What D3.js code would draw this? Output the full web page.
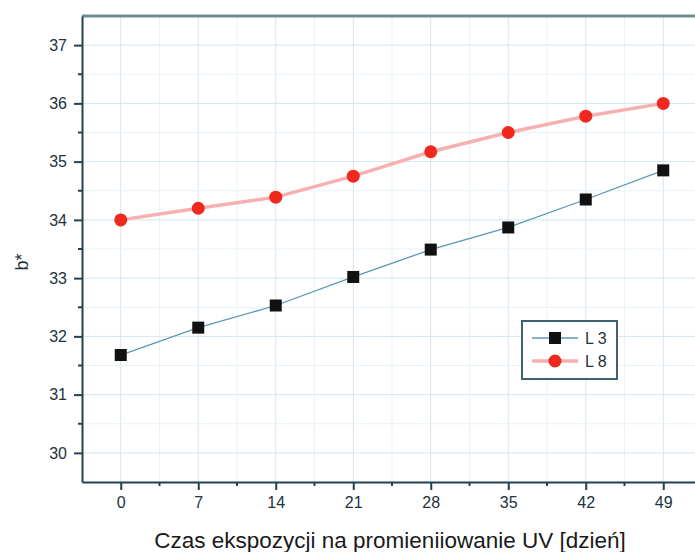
<!DOCTYPE html>
<html>
<head>
<meta charset="utf-8">
<script src="https://cdn.jsdelivr.net/npm/d3@7"></script>
<style>
  body { margin: 0; background: #fff; }
  svg { display: block; font-family: "Liberation Sans", Arial, sans-serif; }
</style>
</head>
<body>
<svg width="695" height="552"></svg>
<script>
//-- data --//
const days = [0, 7, 14, 21, 28, 35, 42, 49];
const seriesNames = ["L 3", "L 8"];
const valuesL3 = [31.68, 32.15, 32.53, 33.02, 33.49, 33.87, 34.35, 34.85];
const valuesL8 = [34.0, 34.2, 34.39, 34.75, 35.17, 35.5, 35.78, 36.0];
const yTicks = [30, 31, 32, 33, 34, 35, 36, 37];
const xLabel = "Czas ekspozycji na promieniiowanie UV [dzień]";
const yLabel = "b*";

const series = [
  {key: seriesNames[0], values: days.map((d, i) => ({day: d, value: valuesL3[i]}))},
  {key: seriesNames[1], values: days.map((d, i) => ({day: d, value: valuesL8[i]}))}
];

const margin = {top: 16, right: -7, bottom: 70, left: 82};
const width = 695;
const height = 552;
const axisColor = "#24414f";
const textColor = "#22323e";

const x = d3.scaleLinear()
    .domain([-3.5, 52.5])
    .range([margin.left, width - margin.right]);

const y = d3.scaleLinear()
    .domain([29.5, 37.5])
    .range([height - margin.bottom, margin.top]);

const svg = d3.select("svg");

//-- grid --//
const xMinor = d3.range(0, 52.5, 3.5);
const yMinor = d3.range(30, 37.5, 0.5);

svg.append("g")
    .selectAll("line")
    .data(xMinor)
    .join("line")
    .attr("x1", d => x(d)).attr("x2", d => x(d))
    .attr("y1", y.range()[0]).attr("y2", y.range()[1])
    .attr("stroke", d => d % 7 === 0 ? "#d3e5ef" : "#e8f1f6")
    .attr("stroke-width", 1);

svg.append("g")
    .selectAll("line")
    .data(yMinor)
    .join("line")
    .attr("x1", x.range()[0]).attr("x2", x.range()[1])
    .attr("y1", d => y(d)).attr("y2", d => y(d))
    .attr("stroke", d => d % 1 === 0 ? "#d3e5ef" : "#e8f1f6")
    .attr("stroke-width", 1);

//-- axes --//
const xAxis = g => g
    .attr("transform", `translate(0,${y.range()[0]})`)
    .call(d3.axisBottom(x).tickValues(days).tickSize(8).tickPadding(7).tickSizeOuter(0))
    .call(g => g.select(".domain").attr("stroke", axisColor).attr("stroke-width", 2))
    .call(g => g.selectAll(".tick line").attr("stroke", axisColor).attr("stroke-width", 2))
    .call(g => g.selectAll(".tick text").attr("fill", textColor).style("font-size", "16px"));

const yAxis = g => g
    .attr("transform", `translate(${x.range()[0]},0)`)
    .call(d3.axisLeft(y).tickValues(yTicks).tickSize(8).tickPadding(7).tickSizeOuter(0))
    .call(g => g.select(".domain").attr("stroke", axisColor).attr("stroke-width", 2))
    .call(g => g.selectAll(".tick line").attr("stroke", axisColor).attr("stroke-width", 2))
    .call(g => g.selectAll(".tick text").attr("fill", textColor).style("font-size", "16px"));

// minor ticks
svg.append("g")
    .selectAll("line")
    .data(xMinor.filter(d => d % 7 !== 0))
    .join("line")
    .attr("x1", d => x(d)).attr("x2", d => x(d))
    .attr("y1", y.range()[0]).attr("y2", y.range()[0] + 4)
    .attr("stroke", axisColor).attr("stroke-width", 2);

svg.append("g")
    .selectAll("line")
    .data(yMinor.filter(d => d % 1 !== 0))
    .join("line")
    .attr("x1", x.range()[0] - 4).attr("x2", x.range()[0])
    .attr("y1", d => y(d)).attr("y2", d => y(d))
    .attr("stroke", axisColor).attr("stroke-width", 2);

// top frame
svg.append("line")
    .attr("x1", x.range()[0]).attr("x2", x.range()[1])
    .attr("y1", y.range()[1]).attr("y2", y.range()[1])
    .attr("stroke", "#6f8d99").attr("stroke-width", 3);

svg.append("g").call(xAxis);
svg.append("g").call(yAxis);

//-- lines + markers --//
const line = d3.line()
    .x(d => x(d.day))
    .y(d => y(d.value));

const styles = {
  "L 3": {stroke: "#5b97b3", width: 1.3},
  "L 8": {stroke: "#f7b0b0", width: 3.5}
};

const g = svg.append("g")
    .selectAll("g")
    .data(series)
    .join("g");

g.append("path")
    .attr("fill", "none")
    .attr("stroke", d => styles[d.key].stroke)
    .attr("stroke-width", d => styles[d.key].width)
    .attr("d", d => line(d.values));

function marker(sel, key) {
  if (key === "L 3") {
    sel.append("rect")
        .attr("x", -6).attr("y", -6)
        .attr("width", 12).attr("height", 12)
        .attr("fill", "#111");
  } else {
    sel.append("circle")
        .attr("r", 6.5)
        .attr("fill", "#f0281e");
  }
}

g.each(function(d) {
  d3.select(this).selectAll("g.pt")
      .data(d.values)
      .join("g")
      .attr("class", "pt")
      .attr("transform", p => `translate(${x(p.day)},${y(p.value)})`)
      .each(function() { marker(d3.select(this), d.key); });
});

//-- legend --//
const legend = svg.append("g").attr("transform", "translate(522,321)");
legend.append("rect")
    .attr("width", 95).attr("height", 58)
    .attr("fill", "#fff")
    .attr("stroke", "#3f6272").attr("stroke-width", 2);

series.forEach((s, i) => {
  const row = legend.append("g").attr("transform", `translate(0,${17 + i * 23})`);
  row.append("line")
      .attr("x1", 10).attr("x2", 56)
      .attr("stroke", styles[s.key].stroke)
      .attr("stroke-width", styles[s.key].width);
  const m = row.append("g").attr("transform", "translate(33,0)");
  marker(m, s.key);
  row.append("text")
      .attr("x", 63).attr("dy", "0.35em")
      .attr("fill", textColor)
      .style("font-size", "16px")
      .text(s.key);
});

//-- labels --//
svg.append("text")
    .attr("x", 390).attr("y", 548)
    .attr("text-anchor", "middle")
    .attr("fill", "#1a1a1a")
    .style("font-size", "22.5px")
    .text(xLabel);

svg.append("text")
    .attr("transform", "translate(28,262) rotate(-90)")
    .attr("text-anchor", "middle")
    .attr("fill", textColor)
    .style("font-size", "18px")
    .text(yLabel);
</script>
</body>
</html>
